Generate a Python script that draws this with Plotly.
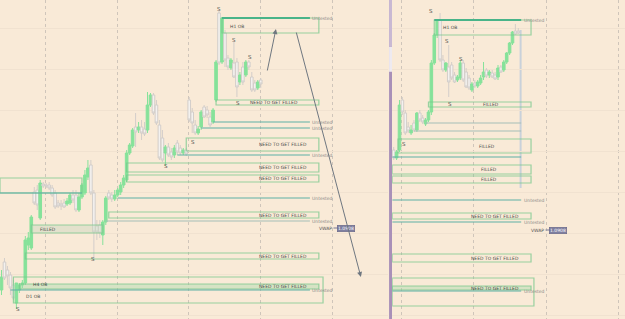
import plotly.graph_objects as go

# ---------------- data: left panel candles (price units) ----------------
L_OPEN = [30, 58, 50, 45, 35, 17, 30, 35, 37, 75, 72, 128, 130, 102, 136, 135, 135, 132, 127, 117,
          116, 117, 116, 117, 125, 125, 110, 123, 127, 143, 155, 127, 94, 95, 85, 98, 127, 125, 121, 125,
          128, 135, 140, 167, 174, 193, 190, 193, 191, 190, 215, 225, 215, 195, 182, 167, 173, 168, 165, 177,
          172, 167, 170, 220, 208, 195, 187, 193, 213, 210, 203, 198, 220, 307, 258, 287, 262, 252, 257, 258,
          238, 253, 245, 258, 243, 237, 232, 240]
L_HIGH = [50, 62, 54, 48, 40, 35, 37, 40, 84, 88, 105, 133, 135, 140, 138, 137, 138, 135, 130, 120,
          120, 121, 122, 127, 130, 130, 127, 137, 150, 160, 160, 130, 100, 100, 100, 124, 130, 128, 130, 132,
          138, 145, 170, 177, 192, 207, 198, 200, 198, 228, 227, 227, 220, 200, 190, 175, 177, 172, 175, 180,
          175, 172, 172, 223, 212, 200, 194, 210, 215, 214, 208, 212, 260, 309, 303, 290, 265, 262, 278, 262,
          248, 258, 260, 260, 248, 240, 240, 242]
L_LOW = [25, 40, 35, 25, 20, 11, 27, 32, 35, 70, 70, 115, 110, 100, 132, 132, 130, 123, 111, 112,
         110, 112, 114, 115, 117, 108, 108, 121, 125, 140, 125, 61, 80, 82, 75, 95, 120, 118, 119, 123,
         125, 132, 138, 165, 172, 173, 187, 180, 184, 187, 213, 205, 195, 160, 158, 154, 163, 160, 162, 165,
         165, 165, 164, 198, 187, 185, 185, 190, 202, 202, 193, 196, 218, 255, 256, 253, 250, 250, 242, 223,
         235, 235, 243, 250, 228, 228, 230, 232]
L_CLOSE = [43, 42, 44, 32, 22, 37, 35, 37, 80, 82, 103, 117, 115, 137, 134, 134, 132, 125, 113, 114,
           114, 113, 119, 125, 120, 110, 123, 135, 145, 152, 127, 88, 88, 87, 98, 122, 122, 121, 125, 130,
           135, 142, 167, 175, 190, 188, 193, 187, 186, 215, 225, 207, 197, 162, 160, 173, 165, 163, 172, 168,
           167, 170, 166, 200, 197, 187, 191, 208, 203, 205, 195, 210, 258, 257, 302, 260, 253, 260, 243, 233,
           245, 238, 258, 253, 230, 230, 238, 236]

# ---------------- data: right panel candles ----------------
R_OPEN = [170, 162, 170, 220, 207, 193, 187, 197, 190, 207, 202, 196, 200, 208, 257, 285, 300, 260, 250, 253,
          255, 245, 240, 242, 257, 248, 242, 230, 237, 234, 237, 243, 250, 245, 247, 245, 243, 253, 250, 258,
          267, 277, 289, 289]
R_HIGH = [173, 170, 220, 223, 210, 198, 195, 200, 208, 210, 205, 202, 210, 260, 287, 300, 307, 265, 258, 275,
          258, 248, 245, 260, 260, 252, 245, 238, 240, 240, 245, 258, 252, 250, 250, 248, 255, 255, 260, 268,
          278, 289, 296, 292]
R_LOW = [160, 160, 168, 205, 185, 187, 185, 188, 188, 198, 196, 194, 198, 205, 255, 282, 258, 248, 248, 223,
         240, 237, 238, 240, 238, 232, 230, 228, 232, 232, 235, 240, 242, 242, 242, 240, 240, 247, 248, 256,
         265, 275, 285, 286]
R_CLOSE = [162, 168, 215, 208, 187, 189, 190, 190, 207, 200, 198, 200, 208, 257, 285, 300, 260, 250, 257, 238,
           242, 238, 243, 257, 240, 233, 232, 236, 234, 238, 242, 248, 244, 248, 243, 241, 252, 248, 258, 267,
           277, 288, 286, 287]

# ---------------- zones: left panel ----------------
L_BOX_TOP = [302, 220, 182, 157, 145, 108, 67, 36, 43, 142, 95]
L_BOX_BOT = [287, 215, 169, 148, 138, 102, 61, 31, 17, 127, 87]
L_BOX_START = [74, 72, 62, 42, 42, 36, 8, 6, 4, -0.5, 10]
L_BOX_END = [106.5, 106.5, 106.5, 106.5, 106.5, 106.5, 106.5, 106.5, 107.9, 27, 34]
L_BOX_LABEL = ["", "NEED TO GET FILLED", "NEED TO GET FILLED", "NEED TO GET FILLED", "NEED TO GET FILLED",
               "NEED TO GET FILLED", "NEED TO GET FILLED", "NEED TO GET FILLED", "", "", "FILLED"]
L_BOX_LABEL_X = [0, 91.5, 94.5, 94.5, 94.5, 94.5, 94.5, 94.5, 0, 0, 15.6]
L_LVL = [302, 198, 192, 165, 122, 99, 30, 127]
L_LVL_START = [74, 71, 67, 59, 39, 35, 3, -0.5]
L_LVL_END = [103.5, 103.5, 103.5, 103.5, 103.5, 103.5, 103.5, 27]
L_LVL_LABEL = ["Untested", "Untested", "Untested", "Untested", "Untested", "Untested", "Untested", ""]
L_LVL_KIND = ["ob", "teal", "teal", "teal", "teal", "grey", "teal", "teal"]

# ---------------- zones: right panel ----------------
R_BOX_TOP = [300, 218, 181, 155, 144, 107, 66, 34, 42]
R_BOX_BOT = [285, 213, 167, 146, 137, 101, 58, 30, 14]
R_BOX_START = [14, 12, 1.5, -0.5, -0.5, -0.5, -0.5, -0.5, -0.5]
R_BOX_END = [47.4, 47.4, 47.4, 47.4, 47.4, 47.4, 47.4, 47.4, 48.4]
R_BOX_LABEL = ["", "FILLED", "FILLED", "FILLED", "FILLED", "NEED TO GET FILLED", "NEED TO GET FILLED",
               "NEED TO GET FILLED", ""]
R_BOX_LABEL_X = [0, 33.6, 32.2, 32.9, 32.9, 35, 35, 35, 0]
R_LVL = [300, 197, 189, 163, 120, 98, 29]
R_LVL_START = [14, 11, 7, -0.5, -0.5, -0.5, -0.5]
R_LVL_END = [44, 44, 44, 44, 44, 44, 44]
R_LVL_LABEL = ["Untested", "", "", "", "Untested", "Untested", "Untested"]
R_LVL_KIND = ["ob", "grey", "grey", "teal", "teal", "teal", "teal"]

# swing labels
L_S_X = [73, 78, 83.4, 79.4, 64.3, 55.2, 30.7, 5.5]
L_S_Y = [311, 280, 263, 217, 178, 154, 61, 11]
R_S_X = [12.9, 18.4, 23.3, 19.5, 3.6]
R_S_Y = [309, 279, 261, 216, 176]

VWAP_L = 92
VWAP_R = 90
VWAP_TEXT = "1.0908"

# styling
BG = "#f9ead7"
GREEN_UP = "#86e29a"
BOX_LINE = "rgba(120,200,140,0.75)"
TEAL = "#5fb0a6"
OB_LINE = "#49b489"
GREY_LINE = "#a6bdb7"
TXT = "#4a4a4a"
FONT = "DejaVu Sans"
L_SHADED = {7: "rgba(150,215,160,0.35)", 10: "rgba(200,215,190,0.45)"}
R_SHADED = {7: "rgba(150,215,160,0.35)"}

fig = go.Figure()

candle_style = dict(
    increasing=dict(fillcolor=GREEN_UP, line=dict(color=GREEN_UP, width=1)),
    decreasing=dict(fillcolor="#f3f1ef", line=dict(color="#d3ceca", width=1)),
    whiskerwidth=0, showlegend=False, hoverinfo="skip")

fig.add_trace(go.Candlestick(
    x=list(range(len(L_OPEN))), open=L_OPEN, high=L_HIGH, low=L_LOW, close=L_CLOSE,
    xaxis="x", yaxis="y", **candle_style))
fig.add_trace(go.Candlestick(
    x=list(range(len(R_OPEN))), open=R_OPEN, high=R_HIGH, low=R_LOW, close=R_CLOSE,
    xaxis="x2", yaxis="y2", **candle_style))

shapes = []
ann = []


def line_color(kind):
    return {"ob": OB_LINE, "teal": TEAL, "grey": GREY_LINE}[kind]


def add_panel(xr, yr, btop, bbot, bstart, bend, blab, blabx, shaded, lvl, lstart, lend, llab, lkind, label_x):
    for i, (t, b, s, e, lab, lx) in enumerate(zip(btop, bbot, bstart, bend, blab, blabx)):
        fill = shaded.get(i, "rgba(0,0,0,0)")
        shapes.append(dict(type="rect", xref=xr, yref=yr, x0=s, x1=e, y0=b, y1=t,
                           line=dict(color=BOX_LINE, width=1.2), fillcolor=fill, layer="above"))
        if lab:
            ann.append(dict(x=lx, y=(t + b) / 2, xref=xr, yref=yr, text=lab, showarrow=False,
                            font=dict(size=4.5, color=TXT, family=FONT)))
    for v, s, e, lab, k in zip(lvl, lstart, lend, llab, lkind):
        shapes.append(dict(type="line", xref=xr, yref=yr, x0=s, x1=e, y0=v, y1=v,
                           line=dict(color=line_color(k), width=2 if k == "ob" else 1.2), layer="above"))
        if lab:
            ann.append(dict(x=label_x, y=v, xref=xr, yref=yr, text=lab, showarrow=False,
                            font=dict(size=4.5, color="#8a8a8a", family=FONT)))


add_panel("x", "y", L_BOX_TOP, L_BOX_BOT, L_BOX_START, L_BOX_END, L_BOX_LABEL, L_BOX_LABEL_X, L_SHADED,
          L_LVL, L_LVL_START, L_LVL_END, L_LVL_LABEL, L_LVL_KIND, 107.6)
add_panel("x2", "y2", R_BOX_TOP, R_BOX_BOT, R_BOX_START, R_BOX_END, R_BOX_LABEL, R_BOX_LABEL_X, R_SHADED,
          R_LVL, R_LVL_START, R_LVL_END, R_LVL_LABEL, R_LVL_KIND, 48.6)

for sx, sy in zip(L_S_X, L_S_Y):
    ann.append(dict(x=sx, y=sy, xref="x", yref="y", text="S", showarrow=False,
                    font=dict(size=5.5, color=TXT, family=FONT)))
for sx, sy in zip(R_S_X, R_S_Y):
    ann.append(dict(x=sx, y=sy, xref="x2", yref="y2", text="S", showarrow=False,
                    font=dict(size=5.5, color=TXT, family=FONT)))

ann += [
    dict(x=79, y=294, xref="x", yref="y", text="H1 OB", showarrow=False, font=dict(size=4.5, color=TXT, family=FONT)),
    dict(x=19.5, y=293, xref="x2", yref="y2", text="H1 OB", showarrow=False, font=dict(size=4.5, color=TXT, family=FONT)),
    dict(x=12.9, y=36, xref="x", yref="y", text="H4 OB", showarrow=False, font=dict(size=4.5, color=TXT, family=FONT)),
    dict(x=10.6, y=24, xref="x", yref="y", text="D1 OB", showarrow=False, font=dict(size=4.5, color=TXT, family=FONT)),
]

for xr, yr, v, tx, bx in [("x", "y", VWAP_L, 108.6, 115.6), ("x2", "y2", VWAP_R, 49.6, 56.8)]:
    ann.append(dict(x=tx, y=v, xref=xr, yref=yr, text="VWAP", showarrow=False,
                    font=dict(size=4.5, color="#555", family=FONT)))
    shapes.append(dict(type="line", xref=xr, yref=yr, x0=tx + 2.8, x1=bx - 2.6, y0=v, y1=v,
                       line=dict(color="#7a7a98", width=1)))
    ann.append(dict(x=bx, y=v, xref=xr, yref=yr, text=VWAP_TEXT, showarrow=False,
                    bgcolor="#7f7fa0", bordercolor="#5e5e80", borderwidth=0.5, borderpad=0.5,
                    font=dict(size=4.5, color="white", family=FONT)))

ann.append(dict(x=92.1, y=291, ax=89.1, ay=248, xref="x", yref="y", axref="x", ayref="y", text="",
                showarrow=True, arrowhead=2, arrowsize=1, arrowwidth=1, arrowcolor="#6f7780"))
ann.append(dict(x=120.6, y=43, ax=98.8, ay=289, xref="x", yref="y", axref="x", ayref="y", text="",
                showarrow=True, arrowhead=2, arrowsize=1, arrowwidth=1, arrowcolor="#6f7780"))

shapes.append(dict(type="line", xref="x2", yref="y2", x0=43.8, x1=43.8, y0=132, y1=290,
                   line=dict(color="#c9d1da", width=2), layer="below"))

# panel separator
shapes.append(dict(type="rect", xref="paper", yref="paper", x0=0.6225, x1=0.6272, y0=0, y1=1,
                   fillcolor="#a990b8", line=dict(width=0)))
shapes.append(dict(type="rect", xref="paper", yref="paper", x0=0.6225, x1=0.6272, y0=0.775, y1=0.853,
                   fillcolor="#eeeaf0", line=dict(width=0)))
shapes.append(dict(type="rect", xref="paper", yref="paper", x0=0.6225, x1=0.6272, y0=0.853, y1=1,
                   fillcolor="#c9b9d3", line=dict(width=0)))

grid_y = dict(range=[1, 320], showticklabels=False, zeroline=False, showgrid=True,
              gridcolor="#f1e2d0", gridwidth=1, tick0=5, dtick=40.9, fixedrange=True)

fig.update_layout(
    width=625, height=319, margin=dict(l=0, r=0, t=0, b=0),
    paper_bgcolor=BG, plot_bgcolor=BG, showlegend=False,
    boxgap=0.12, boxgroupgap=0.0,
    xaxis=dict(domain=[0, 0.6208], range=[-0.5, 129.7], showticklabels=False, zeroline=False,
               showgrid=True, gridcolor="#cfc5ba", griddash="dot", gridwidth=1,
               tick0=14.6, dtick=24.16, rangeslider=dict(visible=False), anchor="y"),
    xaxis2=dict(domain=[0.6275, 1], range=[-0.52, 79.83], showticklabels=False, zeroline=False,
                showgrid=True, gridcolor="#cfc5ba", griddash="dot", gridwidth=1,
                tick0=2.6, dtick=25, rangeslider=dict(visible=False), anchor="y2"),
    yaxis=dict(domain=[0, 1], anchor="x", **grid_y),
    yaxis2=dict(domain=[0, 1], anchor="x2", **grid_y),
    shapes=shapes, annotations=ann,
)

fig.write_html("out.html")
